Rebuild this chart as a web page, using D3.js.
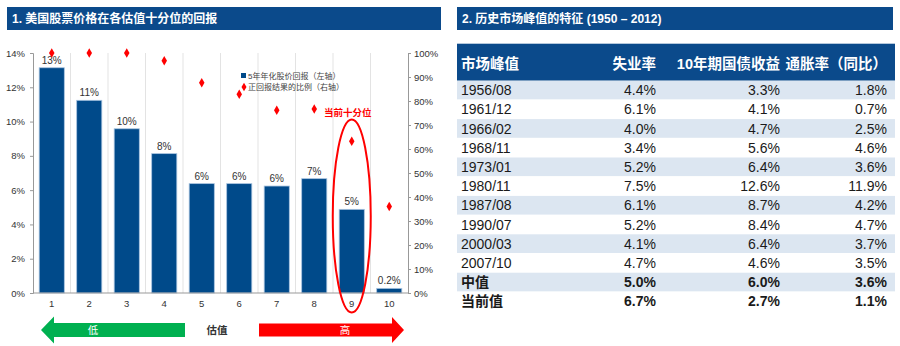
<!DOCTYPE html>
<html><head><meta charset="utf-8">
<script src="https://cdn.jsdelivr.net/npm/d3@7/dist/d3.min.js"></script>
<style>
body{margin:0;background:#fff;}
svg text{font-family:"Liberation Sans",Arial,"Noto Sans CJK SC",sans-serif;}
</style></head>
<body><svg id="c" width="900" height="346"></svg>
<script>
// ---- data ----
const deciles = ["1","2","3","4","5","6","7","8","9","10"];
const returns5y = [13.14, 11.24, 9.58, 8.13, 6.38, 6.38, 6.24, 6.67, 4.88, 0.27];
const returnLabels = ["13%","11%","10%","8%","6%","6%","6%","7%","5%","0.2%"];
const positiveShare = [100, 100, 100, 96.8, 87.6, 82.8, 76.1, 76.7, 63.2, 36.0];
const leftTicks = [0,2,4,6,8,10,12,14];
const rightTicks = [0,10,20,30,40,50,60,70,80,90,100];
const legendLabels = ["5年年化股价回报（左轴）","正回报结果的比例（右轴）"];

const tableHeader = ["市场峰值","失业率","10年期国债收益","通胀率（同比）"];
const peakDates = ["1956/08","1961/12","1966/02","1968/11","1973/01","1980/11","1987/08","1990/07","2000/03","2007/10","中值","当前值"];
const unemployment = ["4.4%","6.1%","4.0%","3.4%","5.2%","7.5%","6.1%","5.2%","4.1%","4.7%","5.0%","6.7%"];
const treasury10y = ["3.3%","4.1%","4.7%","5.6%","6.4%","12.6%","8.7%","8.4%","6.4%","4.6%","6.0%","2.7%"];
const inflation = ["1.8%","0.7%","2.5%","4.6%","3.6%","11.9%","4.2%","4.7%","3.7%","3.5%","3.6%","1.1%"];

const svg = d3.select("#c");
const BLUE = "#0B4A8B", BAR = "#004A8A";

// ---- panel headers ----
svg.append("rect").attr("x",7).attr("y",7).attr("width",434).attr("height",23).attr("fill",BLUE);
svg.append("text").attr("x",12).attr("y",23).attr("fill","#fff").attr("font-size",12).attr("font-weight","bold")
  .text("1. 美国股票价格在各估值十分位的回报");
svg.append("rect").attr("x",457).attr("y",7).attr("width",436).attr("height",23).attr("fill",BLUE);
svg.append("text").attr("x",462).attr("y",23).attr("fill","#fff").attr("font-size",12).attr("font-weight","bold")
  .text("2. 历史市场峰值的特征 (1950 – 2012)");

// ---- chart ----
const x = d3.scaleBand().domain(deciles).range([33,408]).paddingInner(0.33).paddingOuter(0.165);
const yL = d3.scaleLinear().domain([0,14]).range([293,53]);
const yR = d3.scaleLinear().domain([0,100]).range([293,53]);
const step = x.step();

// vertical gridlines
const g = svg.append("g");
g.selectAll("line.grid").data(deciles.slice(1)).join("line")
  .attr("x1",d=>x(d)-x.paddingInner()*step/2).attr("x2",d=>x(d)-x.paddingInner()*step/2)
  .attr("y1",53).attr("y2",293).attr("stroke","#e3e3e3").attr("stroke-width",1);

// bars
g.selectAll("rect.bar").data(returns5y).join("rect")
  .attr("x",(d,i)=>x(deciles[i])).attr("width",x.bandwidth())
  .attr("y",d=>yL(d)).attr("height",d=>yL(0)-yL(d))
  .attr("fill",BAR).attr("stroke","#a9c4e0").attr("stroke-width",0.8);
g.selectAll("text.bl").data(returnLabels).join("text")
  .attr("x",(d,i)=>x(deciles[i])+x.bandwidth()/2).attr("y",(d,i)=>yL(returns5y[i])-4)
  .attr("text-anchor","middle").attr("font-size",10).attr("fill","#333").text(d=>d);

// axes
const axL = svg.append("g").attr("transform","translate(33,0)")
  .call(d3.axisLeft(yL).tickValues(leftTicks).tickSize(3).tickFormat(d=>d+"%"));
const axR = svg.append("g").attr("transform","translate(408,0)")
  .call(d3.axisRight(yR).tickValues(rightTicks).tickSize(3).tickFormat(d=>d+"%"));
const axB = svg.append("g").attr("transform","translate(0,293)")
  .call(d3.axisBottom(x).tickSize(0).tickPadding(7));
[axL,axR,axB].forEach(a=>{
  a.selectAll("path,line").attr("stroke","#999");
  a.selectAll("text").attr("font-size",9.5).attr("fill","#333")
   .attr("font-family","Liberation Sans, Arial, sans-serif");
});
axB.select("path").attr("d","M33,0H408");
axL.selectAll("text").attr("dx",-2);

// red markers
g.selectAll("path.pt").data(positiveShare).join("path")
  .attr("transform",(d,i)=>`translate(${x(deciles[i])+x.bandwidth()/2},${yR(d)})`)
  .attr("d",d3.symbol(d3.symbolDiamond,26)).attr("fill","#f00");

// legend
svg.append("rect").attr("x",241).attr("y",73).attr("width",5).attr("height",5).attr("fill",BAR);
svg.append("path").attr("transform","translate(244,87)").attr("d",d3.symbol(d3.symbolDiamond,22)).attr("fill","#f00");
svg.selectAll("text.lg").data(legendLabels).join("text")
  .attr("x",248).attr("y",(d,i)=>79+i*11).attr("font-size",8).attr("fill","#444").text(d=>d);

// current decile ellipse
const c9 = x("9")+x.bandwidth()/2;
svg.append("ellipse").attr("cx",c9).attr("cy",216).attr("rx",19).attr("ry",96.5)
  .attr("fill","none").attr("stroke","#f00").attr("stroke-width",2);
svg.append("text").attr("x",c9-4).attr("y",116).attr("text-anchor","middle").attr("font-size",9.5)
  .attr("font-weight","bold").attr("fill","#f00").text("当前十分位");

// arrows
svg.append("path").attr("d","M41,330 L54,316.5 L54,323 L185,323 L185,337 L54,337 L54,343.5 Z").attr("fill","#00B050");
svg.append("text").attr("x",93).attr("y",334).attr("text-anchor","middle").attr("font-size",10.5).attr("fill","#fff").text("低");
svg.append("text").attr("x",217).attr("y",334).attr("text-anchor","middle").attr("font-size",10.5).attr("font-weight","bold").attr("fill","#333").text("估值");
svg.append("path").attr("d","M259,323.5 L392,323.5 L392,317 L404,330 L392,343 L392,336.5 L259,336.5 Z").attr("fill","#f00");
svg.append("text").attr("x",345).attr("y",334).attr("text-anchor","middle").attr("font-size",10.5).attr("fill","#fff").text("高");

// ---- table ----
const tx0 = 457, tx1 = 895, rowTop = 80.7, rowH = 19.2;
svg.append("rect").attr("x",tx0).attr("y",43.7).attr("width",tx1-tx0).attr("height",rowTop-43.7).attr("fill",BLUE);
const colX = [461,656,780,887];
svg.selectAll("text.th").data(tableHeader).join("text")
  .attr("x",(d,i)=>colX[i]).attr("y",68.5).attr("text-anchor",(d,i)=>i===0?"start":"end")
  .attr("font-size",14.5).attr("font-weight","bold").attr("fill","#fff").text(d=>d);
const rows = peakDates.map((d,i)=>[d,unemployment[i],treasury10y[i],inflation[i]]);
const rg = svg.selectAll("g.row").data(rows).join("g").attr("transform",(d,i)=>`translate(0,${rowTop+i*rowH})`);
rg.append("rect").attr("x",tx0).attr("width",tx1-tx0).attr("height",rowH)
  .attr("fill",(d,i)=>i%2===0?"#DCE6F1":"#fff");
rg.append("line").attr("x1",tx0).attr("x2",tx1).attr("y1",rowH).attr("y2",rowH).attr("stroke","#fff").attr("stroke-width",1);
rg.each(function(r,i){
  d3.select(this).selectAll("text").data(r).join("text")
    .attr("x",(d,j)=>colX[j]).attr("y",14.5).attr("text-anchor",(d,j)=>j===0?"start":"end")
    .attr("font-size",14).attr("fill","#1a1a1a").attr("font-weight",i>=10?"bold":"normal").text(d=>d);
});
</script></body></html>
